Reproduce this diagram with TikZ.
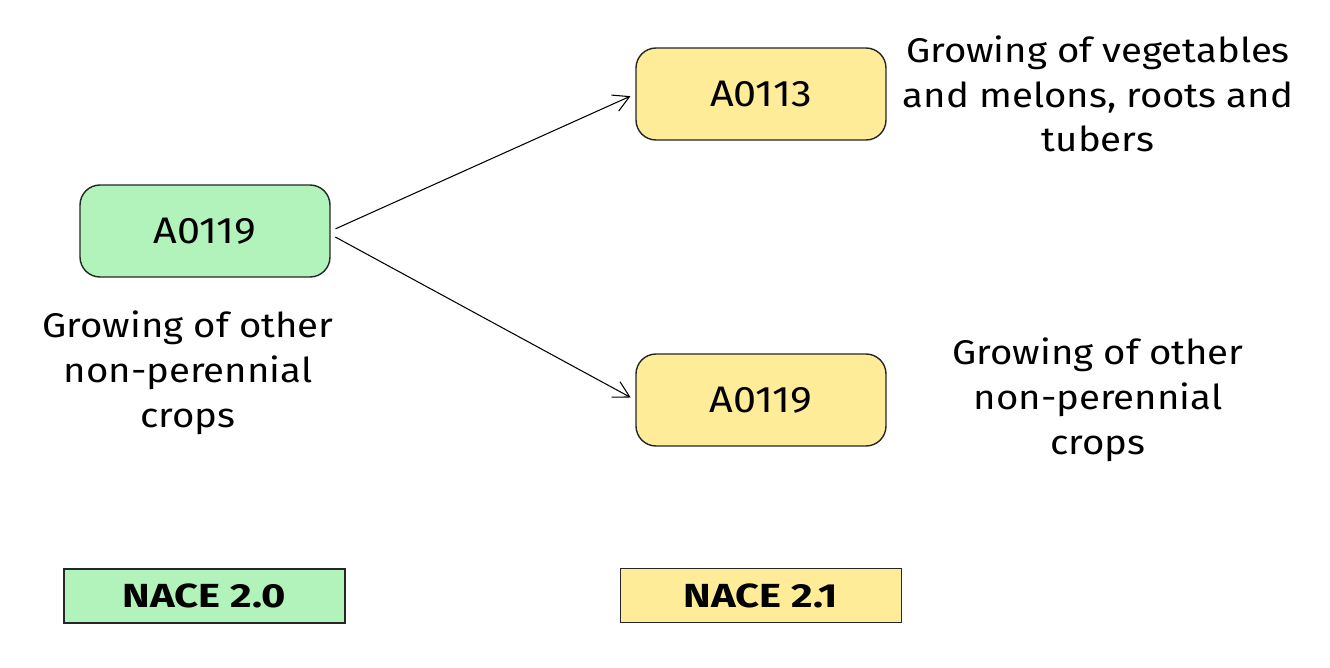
\documentclass[tikz,border=0pt]{standalone}
\usepackage{fontspec}
\setmainfont{Fira Sans}[FakeStretch=1.12]
\newfontfamily\legendfont{Fira Sans}[FakeStretch=1.25]
\usepackage{xcolor}
\usetikzlibrary{shapes,arrows,arrows.meta,positioning}

\definecolor{oldgreen}{HTML}{B2F2BB}
\definecolor{newyellow}{HTML}{FFEC99}

\tikzset{
    codebox/.style={draw=black!85, line width=0.8pt, rounded corners=0.4cm, minimum width=5cm, minimum height=1.84cm, font=\fontsize{21}{25}\selectfont},
    legendbox/.style={draw=black!85, line width=0.7pt, minimum width=5.62cm, minimum height=1.08cm, font=\legendfont\fontsize{19}{23}\selectfont\bfseries},
    desc/.style={align=center, font=\fontsize{19.5}{25.5}\selectfont}
}

\begin{document}
\begin{tikzpicture}[node distance=2cm, >={Straight Barb[length=9pt,width=10pt]}]
    \useasboundingbox (0,0) rectangle (26.6,-13.36);

    % NACE 2.0 code
    \node[codebox, fill=oldgreen] (old) at (4.1,-4.62) {A0119};
    \node[desc] (oldtxt) at (3.76,-7.46) {Growing of other\\non-perennial\\crops};

    % NACE 2.1 codes
    \node[codebox, fill=newyellow] (newa) at (15.22,-1.88) {A0113};
    \node[codebox, fill=newyellow] (newb) at (15.22,-8.0) {A0119};
    \node[desc] (newatxt) at (21.96,-1.88) {Growing of vegetables\\and melons, roots and\\tubers};
    \node[desc] (newbtxt) at (21.96,-8.0) {Growing of other\\non-perennial\\crops};

    \draw[->, line width=0.6pt, shorten <=3pt, shorten >=3pt] (old.east) -- (newa.west);
    \draw[->, line width=0.6pt, shorten <=3pt, shorten >=3pt] ([yshift=-2pt]old.east) -- (newb.west);

    % legend
    \node[legendbox, fill=oldgreen] (leg20) at (4.09,-11.92) {NACE 2.0};
    \node[legendbox, fill=newyellow] (leg21) at (15.22,-11.91) {NACE 2.1};

\end{tikzpicture}
\end{document}
